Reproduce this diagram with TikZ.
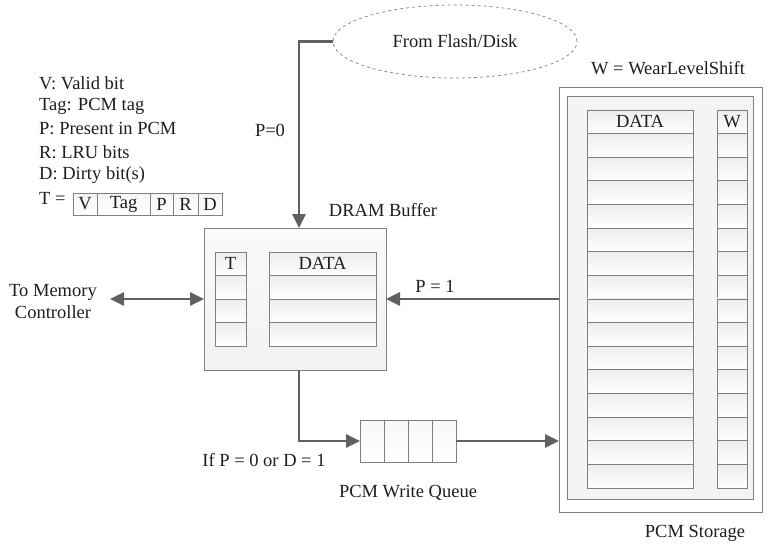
\documentclass[tikz,border=0pt]{standalone}
\usepackage{fontspec}
\setmainfont{Liberation Serif}
\usetikzlibrary{arrows.meta,shapes.geometric}
\definecolor{boxline}{HTML}{808080}
\definecolor{conncol}{HTML}{606060}
\definecolor{txt}{HTML}{1E1E1E}
\tikzset{
  lbl/.style={font=\fontsize{18.5}{22}\selectfont, text=txt, inner sep=0pt},
  cell/.style={draw=boxline, line width=0.9pt, top color=gray!14, bottom color=white, inner sep=0pt, outer sep=0pt, font=\fontsize{18.5}{22}\selectfont, text=txt},
  tcell/.style={draw=boxline, line width=0.9pt, top color=gray!8, bottom color=white, inner sep=0pt, outer sep=0pt, font=\fontsize{18.5}{22}\selectfont, text=txt, minimum height=22pt},
  conn/.style={draw=conncol, line width=2.6pt, -{Triangle[length=14pt,width=13pt]}},
  bigbox/.style={draw=boxline, line width=0.9pt, inner sep=0pt, outer sep=0pt},
}
\begin{document}
\begin{tikzpicture}[x=1pt,y=-1pt]
\useasboundingbox (0,0) rectangle (769,544);

% source ellipse
\node[ellipse, draw=boxline, dashed, line width=0.7pt, minimum width=244pt, minimum height=73pt, inner sep=0pt, font=\fontsize{18.5}{22}\selectfont, text=txt] (src) at (455,41.5) {From Flash/Disk};

% legend
\node[lbl, anchor=west] (l1) at (39,83) {V: Valid bit};
\node[lbl, anchor=west] (l2) at (39,106) {Tag: PCM tag};
\node[lbl, anchor=west] (l3) at (39,129) {P: Present in PCM};
\node[lbl, anchor=west] (l4) at (39,152) {R: LRU bits};
\node[lbl, anchor=west] (l5) at (39,175) {D: Dirty bit(s)};
\node[lbl, anchor=west] (l6) at (39,198) {T =};
\node[tcell, minimum width=24pt] (tv) at (85,204) {V};
\node[tcell, minimum width=53pt] (tt) at (123.5,204) {Tag};
\node[tcell, minimum width=23pt] (tp) at (161.5,204) {P};
\node[tcell, minimum width=25pt] (tr) at (185.5,204) {R};
\node[tcell, minimum width=24pt] (td) at (210,204) {D};

% DRAM buffer
\node[bigbox, top color=gray!4, bottom color=gray!10, minimum width=182pt, minimum height=142pt] (dram) at (295,299) {};
\node[lbl] (dramlbl) at (383,210) {DRAM Buffer};
\node[cell, minimum width=31pt, minimum height=23.6pt] (dt0) at (230.5,263.8) {T};
\node[cell, minimum width=107pt, minimum height=23.6pt] (dd0) at (322.5,263.8) {DATA};
\foreach \i in {1,2,3} {
  \node[cell, minimum width=31pt, minimum height=23.6pt] (dt\i) at (230.5,{263.8+23.6*\i}) {};
  \node[cell, minimum width=107pt, minimum height=23.6pt] (dd\i) at (322.5,{263.8+23.6*\i}) {};
}

% PCM storage
\node[bigbox, fill=white, minimum width=203pt, minimum height=425pt] (pcmout) at (660.5,299.5) {};
\node[bigbox, fill=gray!9, minimum width=186pt, minimum height=403pt] (pcmin) at (660,297.5) {};
\node[lbl] (wlbl) at (668,68) {W = WearLevelShift};
\node[lbl] (pcmlbl) at (695,533) {PCM Storage};
\node[cell, minimum width=106pt, minimum height=23.625pt] (pd0) at (640,121.8) {DATA};
\node[cell, minimum width=30pt, minimum height=23.625pt] (pw0) at (732,121.8) {W};
\foreach \i in {1,...,15} {
  \node[cell, minimum width=106pt, minimum height=23.625pt] (pd\i) at (640,{121.8+23.625*\i}) {};
  \node[cell, minimum width=30pt, minimum height=23.625pt] (pw\i) at (732,{121.8+23.625*\i}) {};
}

% write queue
\node[bigbox, top color=gray!6, bottom color=white, minimum width=96pt, minimum height=42pt] (q) at (408,441) {};
\draw[boxline, line width=0.9pt] (384,420) -- (384,462) (408,420) -- (408,462) (432,420) -- (432,462);
\node[lbl] (qlbl) at (408,493) {PCM Write Queue};
\node[lbl] (iflbl) at (264,460) {If P = 0 or D = 1};

% memory controller
\node[lbl, align=center] (mc) at (53,302) {To Memory\\Controller};
\coordinate (mcend) at (110,299);

% connectors
\draw[conn] (src.west) -| ([xshift=4pt]dram.north);
\node[lbl] (p0) at (270,130) {P=0};
\draw[draw=conncol, line width=2.6pt, {Triangle[length=14pt,width=13pt]}-{Triangle[length=14pt,width=13pt]}] (mcend) -- (dram.west);
\draw[conn] (pcmout.west |- dram.east) -- (dram.east);
\node[lbl] (p1) at (435,286) {P = 1};
\draw[conn] ([xshift=4pt]dram.south) |- (q.west);
\draw[conn] (q.east) -- (pcmout.west |- q.east);
\end{tikzpicture}
\end{document}
